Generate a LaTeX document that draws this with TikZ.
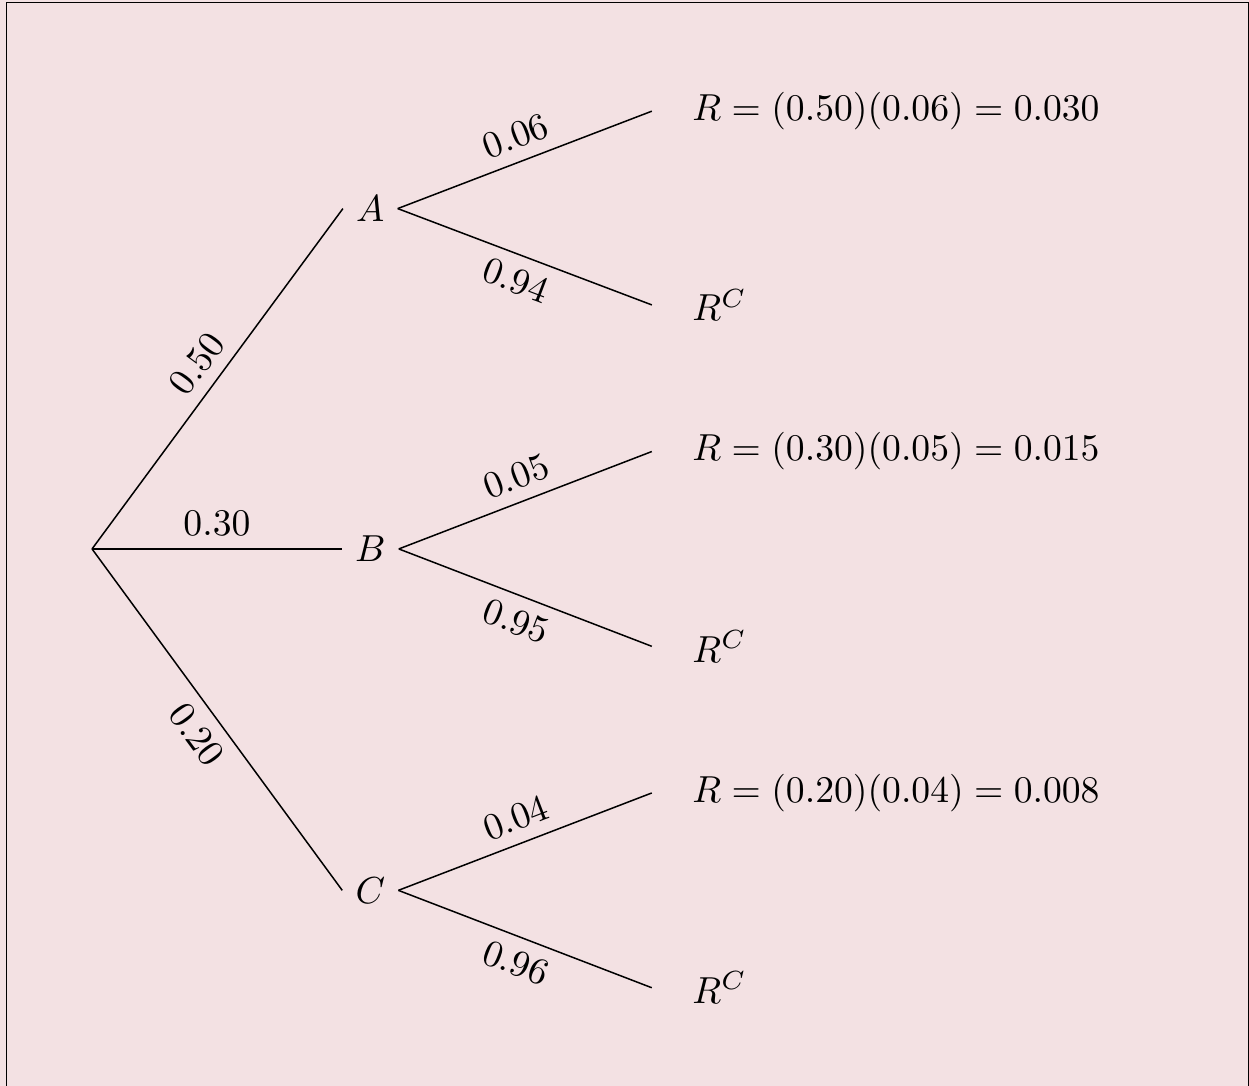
\documentclass[tikz,border=0pt]{standalone}
\definecolor{bgpink}{RGB}{243,225,227}
\tikzset{
  leaf/.style={anchor=west, inner xsep=10.6pt},
}
\begin{document}
\begin{tikzpicture}
    \fill[bgpink] (-0.86,-5.017) rectangle (10.81,5.129);
    \useasboundingbox (-0.86,-5.017) rectangle (10.81,5.129);
    \draw (-0.80,-5.3) rectangle (10.804,5.105);

    \coordinate (O) at (0,0);
    \node (A) at (2.6,3.18){$A$};
    \node (B) at (2.6,0){$B$};
    \node (C) at (2.6,-3.19){$C$};

    \node[leaf] (RA) at (5.23,4.09){$R=(0.50)(0.06)=0.030$};
    \node[leaf] (RAc) at (5.23,2.28){$R^C$};
    \node[leaf] (RB) at (5.23,0.91){$R=(0.30)(0.05)=0.015$};
    \node[leaf] (RBc) at (5.23,-0.91){$R^C$};
    \node[leaf] (RC) at (5.23,-2.28){$R=(0.20)(0.04)=0.008$};
    \node[leaf] (RCc) at (5.23,-4.10){$R^C$};

    \draw (O) edge node[above,sloped]{$0.50$} (A.west);
    \draw (O) edge node[above]{$0.30$} (B.west);
    \draw (O) edge node[below,sloped]{$0.20$} (C.west);

    \draw (A.east) edge node[above,sloped]{$0.06$} (RA.west);
    \draw (A.east) edge node[below,sloped]{$0.94$} (RAc.west);
    \draw (B.east) edge node[above,sloped]{$0.05$} (RB.west);
    \draw (B.east) edge node[below,sloped]{$0.95$} (RBc.west);
    \draw (C.east) edge node[above,sloped]{$0.04$} (RC.west);
    \draw (C.east) edge node[below,sloped]{$0.96$} (RCc.west);
  \end{tikzpicture}
\end{document}
